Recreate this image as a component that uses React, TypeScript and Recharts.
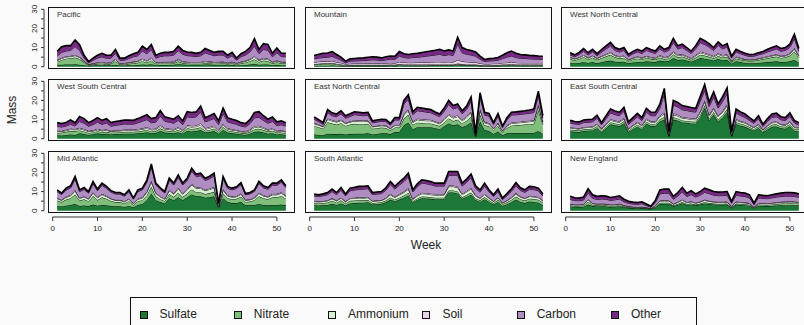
import { AreaChart, Area, XAxis, YAxis } from "recharts";

const WEEKS = Array.from({ length: 52 }, (_, i) => i + 1);
const SPECIES = ["Sulfate", "Nitrate", "Ammonium", "Soil", "Carbon", "Other"];
const COLORS = ["#1b7837", "#7fbf7b", "#d9f0d3", "#e7d4e8", "#af8dc3", "#762a83"];
const Y_TICKS = [0, 5, 10, 15, 20, 25, 30];
const X_TICKS = [0, 10, 20, 30, 40, 50];

const pacific = {
  Sulfate: [1, 1, 1.2, 1.2, 1.3, 1, 0.8, 0.5, 0.6, 0.7, 0.8, 0.7, 0.8,
    1, 0.6, 0.6, 0.7, 0.8, 0.9, 1.1, 1, 1.3, 0.8, 0.9, 0.9, 1,
    1, 1.3, 1.1, 1, 1, 1, 1, 1.2, 1.1, 1, 1, 1, 0.8,
    1, 0.6, 0.8, 0.9, 1.1, 1.4, 1, 1.2, 1.2, 0.8, 1, 0.8, 0.8],
  Nitrate: [1.5, 2.5, 3, 3.2, 3.5, 3, 1.5, 0.3, 0.5, 0.8, 0.8, 0.6, 0.7,
    2, 0.5, 0.6, 0.8, 1, 1.2, 1.8, 1.2, 2, 0.7, 0.8, 0.8, 0.7,
    0.8, 1.5, 0.8, 0.7, 0.6, 0.6, 0.6, 0.8, 0.7, 0.6, 0.7, 0.8, 0.6,
    0.8, 0.6, 1, 1.3, 1.8, 2.5, 1.5, 2, 1.8, 1, 1.3, 1, 1],
  Ammonium: [0.7, 0.8, 0.9, 0.9, 1, 0.8, 0.5, 0.3, 0.4, 0.5, 0.5, 0.5, 0.5,
    0.8, 0.4, 0.4, 0.5, 0.6, 0.6, 0.9, 0.7, 1, 0.5, 0.5, 0.5, 0.5,
    0.5, 0.8, 0.6, 0.5, 0.5, 0.5, 0.5, 0.6, 0.6, 0.5, 0.5, 0.5, 0.4,
    0.5, 0.4, 0.5, 0.6, 0.8, 1.1, 0.7, 0.9, 0.8, 0.5, 0.7, 0.5, 0.5],
  Soil: [0.4, 0.4, 0.4, 0.4, 0.5, 0.4, 0.3, 0.2, 0.3, 0.3, 0.4, 0.3, 0.3,
    0.4, 0.3, 0.3, 0.3, 0.3, 0.4, 0.5, 0.4, 0.5, 0.3, 0.3, 0.4, 0.4,
    0.4, 0.5, 0.4, 0.4, 0.4, 0.4, 0.4, 0.5, 0.4, 0.4, 0.4, 0.4, 0.3,
    0.4, 0.3, 0.4, 0.4, 0.5, 0.6, 0.4, 0.5, 0.5, 0.3, 0.4, 0.3, 0.3],
  Carbon: [1.9, 2.8, 2.7, 2.8, 4.2, 3.3, 1.4, 0.7, 1.5, 2.2, 2.7, 2.3, 2.2,
    2.8, 1.5, 1.5, 2, 2.5, 2.6, 3.9, 3.5, 4.2, 2.2, 2.8, 3.1, 3.1,
    3.4, 4.3, 3.6, 3.2, 3.1, 2.8, 3.2, 4.2, 3.7, 3.2, 3.5, 3.4, 2.4,
    3, 1.5, 2.5, 2.9, 3.5, 5.2, 3.2, 4.4, 4.3, 2.6, 3.8, 2.7, 2.6],
  Other: [2.5, 3, 2.8, 2.5, 3.5, 3, 1.5, 0.7, 1.2, 1.5, 1.8, 1.6, 1.5,
    2, 1.2, 1.1, 1.4, 1.6, 1.8, 2.5, 2.2, 2.6, 1.5, 1.7, 1.8, 1.8,
    1.9, 2.3, 2, 1.9, 1.9, 1.7, 1.8, 2.2, 2, 1.8, 1.9, 1.9, 1.5,
    1.8, 1.1, 1.6, 1.9, 2.3, 3.8, 2.2, 3, 3, 1.8, 2.6, 1.7, 1.8],
};

const mountain = {
  Sulfate: [0.5, 0.5, 0.5, 0.5, 0.6, 0.5, 0.4, 0.3, 0.4, 0.4, 0.4, 0.4, 0.4,
    0.4, 0.4, 0.4, 0.4, 0.5, 0.4, 0.6, 0.5, 0.5, 0.5, 0.5, 0.5, 0.5,
    0.6, 0.6, 0.6, 0.6, 0.6, 0.6, 0.8, 0.7, 0.6, 0.6, 0.6, 0.4, 0.3,
    0.3, 0.4, 0.4, 0.5, 0.5, 0.6, 0.5, 0.5, 0.5, 0.5, 0.5, 0.5, 0.5],
  Nitrate: [0.6, 0.8, 1, 1, 1, 0.7, 0.5, 0.2, 0.3, 0.3, 0.3, 0.3, 0.3,
    0.3, 0.3, 0.3, 0.3, 0.3, 0.3, 0.5, 0.4, 0.3, 0.3, 0.3, 0.3, 0.3,
    0.3, 0.3, 0.3, 0.3, 0.3, 0.3, 0.6, 0.4, 0.3, 0.3, 0.3, 0.2, 0.2,
    0.2, 0.2, 0.2, 0.3, 0.3, 0.4, 0.3, 0.3, 0.3, 0.3, 0.3, 0.3, 0.3],
  Ammonium: [0.3, 0.3, 0.3, 0.3, 0.3, 0.3, 0.3, 0.3, 0.3, 0.3, 0.3, 0.3, 0.3,
    0.3, 0.3, 0.3, 0.3, 0.3, 0.3, 0.3, 0.3, 0.3, 0.3, 0.3, 0.3, 0.3,
    0.3, 0.3, 0.3, 0.3, 0.3, 0.3, 0.3, 0.3, 0.3, 0.3, 0.3, 0.3, 0.3,
    0.3, 0.3, 0.3, 0.3, 0.3, 0.3, 0.3, 0.3, 0.3, 0.3, 0.3, 0.3, 0.3],
  Soil: [0.9, 1, 1, 1, 1.1, 0.9, 0.8, 0.5, 0.6, 0.7, 0.7, 0.7, 0.8,
    0.8, 0.8, 0.7, 0.8, 0.9, 0.8, 1.1, 1, 1, 1, 1.1, 1.1, 1.2,
    1.2, 1.3, 1.3, 1.2, 1.3, 1.2, 1.8, 1.4, 1.3, 1.2, 1.1, 0.8, 0.6,
    0.6, 0.7, 0.7, 0.9, 1, 1.1, 1, 0.9, 0.9, 0.9, 0.9, 0.9, 0.9],
  Carbon: [1.8, 1.9, 2, 2.1, 2.4, 2, 1.4, 0.7, 1.3, 1.3, 1.4, 1.5, 1.6,
    1.8, 1.7, 1.5, 1.8, 1.9, 2, 3, 2.6, 2.4, 2.7, 2.7, 3, 3.2,
    3.4, 3.6, 4, 3.4, 3.8, 3.5, 8.4, 4.4, 4, 3.7, 3.2, 2.2, 1.3,
    1.6, 1.5, 1.8, 2.2, 2.9, 3.2, 2.7, 2.4, 2.3, 2.1, 2, 1.9, 1.8],
  Other: [1.8, 2, 2.2, 2.3, 2.5, 2, 1.6, 0.9, 1.2, 1.3, 1.4, 1.4, 1.5,
    1.6, 1.5, 1.4, 1.6, 1.7, 1.6, 2.4, 2, 1.9, 2, 2.1, 2.2, 2.3,
    2.4, 2.5, 2.6, 2.4, 2.5, 2.3, 3.5, 2.8, 2.5, 2.4, 2.2, 1.6, 1.1,
    1.2, 1.3, 1.4, 1.8, 2.3, 2.6, 2.2, 2, 1.9, 1.8, 1.8, 1.7, 1.7],
};

const westNorthCentral = {
  Sulfate: [2, 1.8, 2, 2.5, 2, 2.4, 1.8, 2.3, 2.8, 3.2, 2.6, 2.4, 2.6,
    1.8, 2.2, 2.5, 2.3, 2.8, 2.6, 2.4, 3.2, 2.8, 3, 4.5, 3.5, 3.8,
    3.2, 2.6, 3.5, 4.5, 4.2, 3.8, 3.2, 4, 3.4, 3.6, 1.6, 2.8, 2.4,
    2, 1.8, 1.8, 2, 2.2, 2.4, 2.6, 2.8, 2.4, 2.5, 2.8, 3.5, 2.2],
  Nitrate: [2, 1.6, 2, 2.6, 1.8, 2.4, 1.8, 2.2, 2.6, 3, 2.3, 2, 2.1,
    1.2, 1.6, 1.8, 1.5, 1.8, 1.5, 1.3, 1.6, 1.2, 1.3, 2, 1.4, 1.5,
    1.2, 1, 1.3, 1.8, 1.6, 1.4, 1.2, 1.6, 1.4, 1.6, 0.8, 1.4, 1.3,
    1.2, 1.2, 1.3, 1.5, 1.8, 2, 2.3, 2.5, 2.2, 2.4, 3, 4.5, 2.6],
  Ammonium: [0.7, 0.6, 0.7, 0.8, 0.7, 0.8, 0.6, 0.8, 0.9, 1, 0.8, 0.7, 0.8,
    0.5, 0.6, 0.7, 0.6, 0.7, 0.6, 0.6, 0.8, 0.7, 0.7, 1, 0.8, 0.8,
    0.7, 0.6, 0.8, 1, 0.9, 0.8, 0.7, 0.9, 0.8, 0.8, 0.4, 0.7, 0.6,
    0.5, 0.5, 0.5, 0.6, 0.6, 0.7, 0.7, 0.8, 0.7, 0.7, 0.8, 1.2, 0.7],
  Soil: [0.3, 0.3, 0.3, 0.4, 0.3, 0.4, 0.3, 0.4, 0.4, 0.5, 0.4, 0.4, 0.4,
    0.3, 0.3, 0.4, 0.4, 0.4, 0.4, 0.4, 0.5, 0.4, 0.5, 0.6, 0.5, 0.5,
    0.5, 0.4, 0.5, 0.6, 0.6, 0.5, 0.5, 0.5, 0.5, 0.5, 0.3, 0.4, 0.4,
    0.3, 0.3, 0.3, 0.3, 0.4, 0.4, 0.4, 0.4, 0.4, 0.4, 0.4, 0.6, 0.4],
  Carbon: [1.1, 0.9, 1.3, 1.7, 1.3, 1.7, 1.2, 1.9, 2.6, 3.1, 2.4, 2.2, 2.6,
    1.6, 2, 2.3, 2.1, 2.8, 2.5, 2.2, 3.2, 2.6, 3, 4.5, 3.1, 3.4,
    2.9, 2.3, 3.3, 4.7, 4.3, 3.7, 2.9, 4.1, 3.2, 3.8, 1.5, 2.4, 2.1,
    1.9, 1.6, 1.6, 1.8, 1.8, 2.2, 2.5, 2.8, 2.4, 2.5, 3.1, 4.8, 2.2],
  Other: [1.2, 1, 1.2, 1.5, 1.2, 1.4, 1.1, 1.4, 1.6, 1.9, 1.5, 1.4, 1.5,
    1, 1.3, 1.4, 1.3, 1.5, 1.4, 1.3, 1.6, 1.4, 1.5, 2.2, 1.6, 1.8,
    1.5, 1.3, 1.6, 2.2, 2, 1.8, 1.5, 1.9, 1.6, 1.8, 0.9, 1.4, 1.2,
    1.1, 1, 1, 1.1, 1.2, 1.4, 1.5, 1.6, 1.4, 1.5, 1.7, 2.4, 1.4],
};

const westSouthCentral = {
  Sulfate: [1.8, 1.7, 2, 2.2, 2, 2.8, 2.5, 2, 2.3, 2.8, 2.4, 2.6, 2.2,
    2.4, 2.5, 2.6, 2.6, 2.6, 2.8, 3, 3.4, 2.8, 3, 4, 3.2, 3,
    2.8, 3.4, 2.6, 4, 3.8, 4, 4.5, 3.2, 3.5, 4, 2.6, 4.6, 3.2,
    2.8, 2.6, 2.2, 2, 2.6, 3.6, 3.7, 3.2, 2.6, 2.8, 2.2, 2.3, 2],
  Nitrate: [1.2, 1.4, 1.6, 1.8, 2, 1.5, 1.3, 1, 1, 1.1, 1, 1, 0.9,
    0.9, 0.9, 1, 1, 1, 1, 1.1, 1.2, 1, 1, 1.4, 1.1, 1,
    1, 1.2, 0.9, 1.4, 1.3, 1.3, 1.5, 1, 1.1, 1.3, 0.9, 1.5, 1.1,
    1, 0.9, 0.8, 0.8, 1, 1.4, 1.5, 1.3, 1.1, 1.4, 1, 1, 0.9],
  Ammonium: [0.7, 0.6, 0.7, 0.8, 0.7, 0.9, 0.8, 0.7, 0.7, 0.8, 0.7, 0.8, 0.6,
    0.7, 0.7, 0.7, 0.7, 0.7, 0.8, 0.8, 0.9, 0.8, 0.8, 1, 0.8, 0.8,
    0.7, 0.9, 0.7, 1, 1, 1, 1.2, 0.8, 0.9, 1, 0.7, 1.1, 0.8,
    0.7, 0.7, 0.6, 0.6, 0.7, 1, 1, 0.9, 0.7, 0.8, 0.6, 0.7, 0.6],
  Soil: [0.4, 0.4, 0.4, 0.5, 0.4, 0.5, 0.5, 0.4, 0.4, 0.5, 0.4, 0.5, 0.4,
    0.4, 0.4, 0.5, 0.5, 0.5, 0.5, 0.5, 0.6, 0.5, 0.5, 0.7, 0.5, 0.5,
    0.5, 0.6, 0.4, 0.7, 0.6, 0.6, 0.8, 0.5, 0.6, 0.6, 0.4, 0.7, 0.5,
    0.5, 0.4, 0.4, 0.4, 0.5, 0.6, 0.6, 0.6, 0.5, 0.5, 0.4, 0.4, 0.4],
  Carbon: [2.3, 2, 1.9, 2.3, 1.5, 3.3, 3, 2.4, 3, 3.4, 3, 3.3, 2.4,
    2.6, 2.8, 2.9, 2.8, 2.8, 3.2, 3.7, 3.9, 3.2, 3.4, 4.7, 3.5, 3.3,
    3.1, 3.5, 2.8, 4.4, 4.4, 4.5, 6, 3.3, 3.5, 3.7, 2.8, 5.3, 3.2,
    3.1, 2.9, 2.6, 2.4, 3.1, 4.3, 4.4, 3.5, 3.2, 3.5, 2.7, 2.9, 2.7],
  Other: [2, 1.8, 1.9, 2.2, 1.8, 2.6, 2.4, 1.9, 2.1, 2.4, 2.1, 2.3, 1.9,
    2, 2, 2.1, 2.1, 2, 2.2, 2.4, 2.5, 2.2, 2.3, 2.8, 2.3, 2.2,
    2.1, 2.4, 1.9, 2.6, 2.6, 2.6, 3, 2.2, 2.4, 2.6, 1.9, 2.8, 2.2,
    2.1, 2, 1.8, 1.7, 2.1, 2.8, 2.9, 2.5, 2.1, 2.4, 1.9, 2, 1.8],
};

const eastNorthCentral = {
  Sulfate: [2.2, 2, 1.8, 2.6, 2.4, 2.4, 2.6, 2.2, 2.4, 2.6, 2.6, 2.6, 2.8,
    2.2, 2.5, 2.8, 2.8, 2.4, 3.5, 3.5, 7, 8.5, 5, 6, 6, 6,
    6, 5.5, 5, 6.5, 8, 7, 7.5, 6, 7, 8.5, 1, 9, 4.5,
    4, 2.5, 3.8, 1.8, 2.8, 3, 3, 3, 3, 3, 3, 4, 2.5],
  Nitrate: [4.5, 4, 3.4, 6, 5.5, 5, 5.5, 4.5, 5, 5.2, 5, 5, 5,
    3, 3, 3, 2.8, 2, 2.4, 2.3, 3.5, 4, 2.2, 2.4, 2.2, 2,
    2, 1.8, 1.6, 2, 2.6, 2.2, 2.4, 2, 2.4, 3, 0.5, 3.5, 2.5,
    2.5, 1.8, 2.8, 1.5, 2.8, 3.8, 4, 4.2, 4.4, 4.6, 4.8, 11, 5],
  Ammonium: [1.2, 1.1, 1, 1.5, 1.4, 1.3, 1.4, 1.2, 1.3, 1.4, 1.4, 1.4, 1.4,
    1, 1, 1, 1, 0.8, 1, 1, 1.8, 2, 1.3, 1.5, 1.4, 1.4,
    1.4, 1.3, 1.2, 1.5, 1.8, 1.6, 1.7, 1.4, 1.6, 2, 0.3, 2.2, 1.3,
    1.2, 0.8, 1.2, 0.6, 1, 1.2, 1.2, 1.2, 1.3, 1.3, 1.4, 2.2, 1.1],
  Soil: [0.4, 0.4, 0.3, 0.5, 0.5, 0.4, 0.5, 0.4, 0.4, 0.5, 0.5, 0.5, 0.5,
    0.3, 0.3, 0.4, 0.4, 0.3, 0.4, 0.4, 0.6, 0.7, 0.5, 0.6, 0.6, 0.6,
    0.5, 0.5, 0.5, 0.6, 0.7, 0.6, 0.7, 0.5, 0.6, 0.7, 0.2, 0.8, 0.5,
    0.5, 0.3, 0.5, 0.3, 0.4, 0.5, 0.5, 0.5, 0.5, 0.5, 0.5, 0.8, 0.4],
  Carbon: [1.8, 1.4, 1, 3, 2.2, 2.4, 3, 2.4, 2.5, 2.9, 2.8, 2.5, 2.6,
    1.8, 1.9, 1.9, 1.9, 1.6, 2.5, 2.6, 5.1, 5.4, 3.6, 4.1, 4.1, 3.9,
    3.7, 3.4, 3.2, 3.7, 4.8, 4.1, 4, 3.1, 3.6, 5.4, 0.6, 6.1, 3.5,
    3.6, 2.1, 3.5, 1.7, 2.8, 3.9, 3.8, 3.8, 3.8, 3.9, 4, 4.4, 1.7],
  Other: [1.3, 1.1, 1, 1.6, 1.5, 1.4, 1.6, 1.3, 1.4, 1.5, 1.5, 1.5, 1.5,
    1, 1.1, 1.1, 1.1, 0.9, 1.2, 1.2, 2, 2.4, 1.5, 1.8, 1.7, 1.7,
    1.6, 1.5, 1.4, 1.7, 2.1, 1.8, 1.9, 1.6, 1.8, 2.2, 0.4, 2.4, 1.5,
    1.4, 0.9, 1.4, 0.7, 1.2, 1.4, 1.5, 1.6, 1.6, 1.7, 1.8, 2.4, 1.3],
};

const eastSouthCentral = {
  Sulfate: [3.8, 3.6, 3.5, 4, 4.2, 4.3, 5.5, 3.4, 5.4, 7.5, 7, 6.6, 8,
    3.5, 5, 6.3, 5, 7.8, 6.6, 6.6, 9, 10, 1.2, 10, 9.5, 8.5,
    8.3, 8, 7.8, 11, 16, 9.5, 12.5, 9, 11, 14, 1.2, 7.5, 6.8,
    6.2, 5.2, 4.2, 5.6, 3.2, 4.8, 6.2, 6.4, 5.4, 5.2, 6.5, 4.2, 3.8],
  Nitrate: [0.9, 0.9, 0.8, 0.9, 0.9, 0.9, 1, 0.8, 1, 1.1, 1, 1, 1.1,
    0.7, 0.9, 1, 0.9, 1.1, 1, 1, 1.2, 1.4, 0.3, 1.2, 1.1, 1,
    1, 1, 1, 1.2, 1.5, 1.1, 1.4, 1.1, 1.3, 1.5, 0.3, 1.1, 1,
    1, 0.9, 0.8, 0.9, 0.7, 0.9, 1.1, 1.1, 1, 1, 1.1, 0.9, 1],
  Ammonium: [0.8, 0.8, 0.7, 0.8, 0.8, 0.8, 1, 0.7, 0.9, 1.1, 1, 1, 1.2,
    0.7, 0.8, 1, 0.8, 1.1, 1, 1, 1.3, 1.6, 0.3, 1.4, 1.3, 1.2,
    1.2, 1.1, 1.1, 1.5, 1.8, 1.3, 1.6, 1.3, 1.5, 1.8, 0.3, 1.1, 1,
    1, 0.8, 0.7, 0.9, 0.6, 0.8, 1, 1, 0.9, 0.8, 1, 0.7, 0.8],
  Soil: [0.4, 0.4, 0.4, 0.4, 0.4, 0.4, 0.5, 0.4, 0.5, 0.6, 0.5, 0.5, 0.6,
    0.4, 0.4, 0.5, 0.4, 0.6, 0.5, 0.5, 0.6, 0.8, 0.2, 0.7, 0.6, 0.6,
    0.6, 0.6, 0.6, 0.7, 0.8, 0.6, 0.8, 0.6, 0.7, 0.8, 0.2, 0.6, 0.5,
    0.5, 0.4, 0.4, 0.4, 0.3, 0.4, 0.5, 0.5, 0.4, 0.4, 0.5, 0.4, 0.4],
  Carbon: [2.3, 2, 2.1, 2.3, 2.3, 2.4, 2.7, 1.9, 2.6, 3.2, 3.1, 2.9, 3.4,
    2.2, 2.4, 2.6, 2.4, 3.3, 2.9, 2.9, 3.7, 9.5, 1.3, 4.2, 4.1, 3.8,
    3.6, 3.5, 3.4, 5, 5.1, 4.3, 5.4, 4, 4.9, 5.5, 1.3, 3.2, 2.8,
    2.4, 2.2, 1.9, 2.6, 1.6, 2.1, 2.3, 2.5, 2.2, 2.1, 2.5, 2, 1.1],
  Other: [1.4, 1.3, 1.3, 1.4, 1.4, 1.4, 1.6, 1.2, 1.6, 2, 1.9, 1.8, 2.1,
    1.3, 1.5, 1.8, 1.5, 2, 1.8, 1.8, 2.2, 3, 0.6, 2.5, 2.4, 2.2,
    2.1, 2.1, 2, 2.6, 3.2, 2.3, 2.8, 2.2, 2.6, 3, 0.6, 2, 1.9,
    1.8, 1.5, 1.3, 1.6, 1.1, 1.5, 1.8, 1.9, 1.6, 1.5, 1.9, 1.3, 1.3],
};

const midAtlantic = {
  Sulfate: [2.5, 2.2, 2.6, 3, 3.5, 2.5, 2.7, 2.4, 3.2, 2.6, 3, 2.8, 2.5,
    2.3, 2.3, 2, 2.5, 1.8, 3, 3.5, 5.5, 9, 5.5, 4.5, 3.8, 6.5,
    5.5, 7, 5.5, 7, 8.5, 7.5, 7.5, 6.8, 7, 7.5, 1.5, 6.5, 4.5,
    4, 4, 4.5, 2.8, 2.8, 3, 3.5, 3, 2.8, 3, 3, 3.2, 2.8],
  Nitrate: [2.8, 2.3, 3.2, 3.5, 5, 2.8, 3.3, 2.6, 4.5, 3, 4, 3.4, 2.6,
    2.2, 2.2, 1.8, 2.5, 1.2, 2, 2, 2.5, 3.5, 2, 1.5, 1.2, 2.2,
    1.6, 2.4, 1.6, 2, 2.6, 2.2, 2.2, 1.9, 2.2, 2.4, 0.5, 2.5, 2,
    2, 2.2, 2.8, 1.8, 2, 2.5, 4, 3.5, 3.2, 4, 4, 4.5, 3.5],
  Ammonium: [1, 0.9, 1.2, 1.3, 1.8, 1, 1.2, 1, 1.5, 1.1, 1.4, 1.2, 1,
    0.9, 0.9, 0.8, 1, 0.6, 1, 1.1, 1.6, 2.5, 1.5, 1.2, 1, 1.8,
    1.5, 2, 1.5, 1.8, 2.4, 2, 2, 1.8, 1.9, 2, 0.4, 1.8, 1.2,
    1.1, 1.1, 1.3, 0.8, 0.9, 1, 1.5, 1.2, 1.1, 1.3, 1.3, 1.5, 1.2],
  Soil: [0.4, 0.3, 0.4, 0.4, 0.5, 0.4, 0.4, 0.3, 0.5, 0.4, 0.4, 0.4, 0.3,
    0.3, 0.3, 0.3, 0.4, 0.2, 0.4, 0.4, 0.5, 0.7, 0.4, 0.4, 0.3, 0.5,
    0.4, 0.6, 0.4, 0.5, 0.6, 0.5, 0.6, 0.5, 0.5, 0.6, 0.1, 0.5, 0.4,
    0.4, 0.4, 0.5, 0.3, 0.3, 0.4, 0.5, 0.4, 0.4, 0.5, 0.5, 0.5, 0.4],
  Carbon: [3.2, 2.7, 3.4, 3.7, 5.7, 3.3, 3.5, 2.9, 4.4, 3.3, 4.5, 3.9, 3.3,
    3, 3, 2.7, 3.6, 2.3, 3.6, 3.9, 4.7, 7.1, 4, 3.5, 3, 4.8,
    4.4, 5.4, 4.4, 4.5, 6.6, 5.6, 5.9, 4.8, 5.1, 5.7, 1.2, 5.3, 3.7,
    3.4, 3.9, 4.5, 2.6, 2.8, 3.2, 4.7, 3.9, 3.7, 4.5, 4.5, 5.2, 4.1],
  Other: [1, 0.8, 1, 1.1, 1.4, 0.9, 1, 0.8, 1.2, 0.9, 1.1, 1, 0.8,
    0.8, 0.8, 0.7, 0.9, 0.5, 0.9, 0.9, 1.2, 1.6, 1, 0.9, 0.7, 1.2,
    1, 1.3, 1, 1.2, 1.5, 1.3, 1.4, 1.2, 1.3, 1.4, 0.3, 1.3, 0.9,
    0.9, 0.9, 1.1, 0.7, 0.7, 0.8, 1.1, 1, 0.9, 1.1, 1.1, 1.2, 1],
};

const southAtlantic = {
  Sulfate: [2.8, 2.7, 2.8, 3, 3.6, 3, 3.8, 2.8, 3.8, 4, 4.2, 4.2, 4.4,
    3.2, 3.4, 3.6, 4.4, 5.8, 4.8, 5.8, 6.8, 8, 4.2, 5.6, 6.5, 6.4,
    6.2, 6, 6, 6, 9.5, 9.5, 9, 6.2, 7.2, 8.4, 5.6, 4.6, 6,
    4.6, 3.2, 4.6, 2.5, 3.4, 4.4, 5.8, 4.6, 4, 4.8, 4.6, 4.2, 3],
  Nitrate: [1.2, 1.1, 1.2, 1.3, 1.6, 1.2, 1.6, 1, 1.4, 1.3, 1.3, 1.2, 1.2,
    0.8, 0.8, 0.8, 0.9, 1.1, 0.9, 1, 1.1, 1.3, 0.7, 0.8, 0.9, 0.9,
    0.8, 0.8, 0.8, 0.8, 1.1, 1.1, 1.1, 0.8, 1, 1.1, 0.8, 0.8, 1.1,
    0.9, 0.8, 1.1, 0.8, 1, 1.3, 1.6, 1.4, 1.3, 1.5, 1.5, 1.5, 1.3],
  Ammonium: [0.8, 0.8, 0.8, 0.9, 1, 0.9, 1.1, 0.8, 1.1, 1.1, 1.2, 1.2, 1.2,
    0.9, 0.9, 0.9, 1.1, 1.4, 1.2, 1.4, 1.6, 1.9, 1, 1.3, 1.5, 1.5,
    1.4, 1.4, 1.4, 1.4, 2, 2, 2, 1.4, 1.6, 1.9, 1.3, 1, 1.3,
    1, 0.8, 1, 0.6, 0.8, 1, 1.3, 1.1, 1, 1.1, 1.1, 1.1, 0.8],
  Soil: [0.3, 0.3, 0.3, 0.3, 0.4, 0.3, 0.4, 0.3, 0.4, 0.4, 0.4, 0.4, 0.4,
    0.3, 0.3, 0.3, 0.4, 0.5, 0.4, 0.5, 0.5, 0.6, 0.3, 0.4, 0.5, 0.5,
    0.5, 0.5, 0.5, 0.5, 0.6, 0.6, 0.6, 0.5, 0.5, 0.6, 0.4, 0.3, 0.4,
    0.3, 0.3, 0.3, 0.2, 0.3, 0.4, 0.5, 0.4, 0.3, 0.4, 0.4, 0.4, 0.3],
  Carbon: [2.6, 2.5, 2.7, 2.9, 3.4, 3, 3.8, 2.8, 3.7, 4, 4.1, 4.3, 4.3,
    3.2, 3.3, 3.3, 3.9, 4.8, 4, 4.7, 5.2, 5.8, 3.6, 4.4, 5, 4.8,
    4.7, 4.2, 4.2, 4.2, 5.3, 5.3, 5.8, 4, 4.5, 5.3, 3.5, 3, 4,
    3, 2.3, 3, 1.7, 2.4, 3, 3.8, 3.1, 3, 3.4, 3.4, 3.2, 2.3],
  Other: [1, 0.9, 1, 1.1, 1.3, 1.1, 1.4, 1, 1.4, 1.4, 1.5, 1.5, 1.5,
    1.1, 1.1, 1.1, 1.3, 1.7, 1.4, 1.6, 1.8, 2, 1.1, 1.5, 1.7, 1.7,
    1.6, 1.5, 1.5, 1.5, 2, 2, 2, 1.5, 1.7, 1.9, 1.4, 1.2, 1.6,
    1.2, 0.9, 1.3, 0.8, 1.1, 1.4, 1.7, 1.4, 1.3, 1.5, 1.5, 1.4, 1],
};

const newEngland = {
  Sulfate: [2.2, 2, 2, 2.1, 3.2, 2.4, 2.2, 2.3, 2.2, 2, 2.1, 2.3, 1.8,
    1.5, 1.4, 1.3, 1.4, 1.1, 0.8, 1.7, 3.5, 3.6, 3.6, 2.4, 3, 3.9,
    3, 3.3, 2.8, 3.2, 3.8, 3.5, 3.2, 3.1, 3.1, 3.2, 1.5, 3.2, 3,
    2.9, 2.6, 1.2, 2.6, 2.5, 2.4, 2.6, 2.7, 2.8, 2.9, 2.9, 2.8, 2.7],
  Nitrate: [0.6, 0.5, 0.5, 0.6, 1.5, 0.7, 0.6, 0.6, 0.6, 0.5, 0.5, 0.6, 0.4,
    0.4, 0.3, 0.3, 0.3, 0.3, 0.2, 0.4, 0.6, 0.6, 0.6, 0.4, 0.5, 0.6,
    0.5, 0.5, 0.4, 0.5, 0.6, 0.5, 0.5, 0.5, 0.5, 0.5, 0.3, 0.5, 0.5,
    0.5, 0.5, 0.3, 0.6, 0.6, 0.6, 0.7, 0.8, 0.9, 0.9, 1, 1, 1],
  Ammonium: [0.6, 0.5, 0.5, 0.5, 1, 0.6, 0.6, 0.6, 0.6, 0.5, 0.5, 0.6, 0.4,
    0.4, 0.3, 0.3, 0.3, 0.3, 0.2, 0.4, 0.9, 0.9, 0.9, 0.6, 0.8, 1,
    0.7, 0.8, 0.7, 0.8, 1, 0.9, 0.8, 0.8, 0.8, 0.8, 0.4, 0.8, 0.7,
    0.7, 0.6, 0.3, 0.6, 0.6, 0.6, 0.6, 0.6, 0.7, 0.7, 0.7, 0.7, 0.6],
  Soil: [0.2, 0.2, 0.2, 0.2, 0.3, 0.2, 0.2, 0.2, 0.2, 0.2, 0.2, 0.2, 0.2,
    0.1, 0.1, 0.1, 0.1, 0.1, 0.1, 0.2, 0.3, 0.3, 0.3, 0.2, 0.3, 0.4,
    0.3, 0.3, 0.3, 0.3, 0.4, 0.3, 0.3, 0.3, 0.3, 0.3, 0.2, 0.3, 0.3,
    0.3, 0.3, 0.1, 0.3, 0.3, 0.3, 0.3, 0.3, 0.3, 0.3, 0.3, 0.3, 0.3],
  Carbon: [2.3, 2.1, 2, 2.2, 3.3, 2.6, 2.3, 2.4, 2.4, 2.2, 2.4, 2.4, 1.9,
    1.4, 1.4, 1.3, 1.6, 0.9, 0.5, 1.6, 3.5, 3.7, 3.7, 2.4, 3, 3.9,
    2.9, 3.5, 2.9, 3.3, 3.8, 3.7, 3.3, 3.1, 3.2, 3.3, 1.5, 3.3, 3.2,
    3, 2.7, 1.3, 2.6, 2.4, 2.4, 2.5, 2.7, 2.7, 2.8, 2.7, 2.6, 2.4],
  Other: [1.6, 1.5, 1.4, 1.5, 2.2, 1.8, 1.6, 1.7, 1.6, 1.5, 1.6, 1.7, 1.3,
    1.1, 1, 1, 1, 0.8, 0.5, 1.1, 2.1, 2.2, 2.2, 1.5, 1.9, 2.3,
    1.8, 2, 1.7, 1.9, 2.2, 2.1, 1.9, 1.9, 1.9, 1.9, 1, 1.9, 1.8,
    1.8, 1.6, 0.8, 1.6, 1.6, 1.5, 1.6, 1.7, 1.8, 1.9, 1.9, 1.9, 1.8],
};

const REGIONS = [
  { name: "Pacific", values: pacific },
  { name: "Mountain", values: mountain },
  { name: "West North Central", values: westNorthCentral },
  { name: "West South Central", values: westSouthCentral },
  { name: "East North Central", values: eastNorthCentral },
  { name: "East South Central", values: eastSouthCentral },
  { name: "Mid Atlantic", values: midAtlantic },
  { name: "South Atlantic", values: southAtlantic },
  { name: "New England", values: newEngland },
];

// layout (page pixels)
const BOX_W = 247;
const BOX_H = 62;
const COL_X = [48, 305, 561];
const ROW_Y = [7, 79, 151];
const Y_AXIS_W = 40;
const X_AXIS_H = 30;
const PAD = 7; // room above the box for the rotated "30" label
const X_DOMAIN: [number, number] = [-1.04, 54.04];
const Y_DOMAIN: [number, number] = [-1.2, 31.2];
const FONT = "'Liberation Sans', Arial, Helvetica, sans-serif";

function YTick(props: any) {
  const { y, payload } = props;
  const v = payload.value;
  const ax = Y_AXIS_W - 4;
  const step = (BOX_H / (Y_DOMAIN[1] - Y_DOMAIN[0])) * 5;
  return (
    <g>
      <line x1={ax - 3} y1={y} x2={ax} y2={y} stroke="#333" strokeWidth={1} />
      {v < 30 && <line x1={ax} y1={y} x2={ax} y2={y - step} stroke="#333" strokeWidth={1} />}
      {v % 10 === 0 && (
        <text x={ax - 9} y={y} transform={`rotate(-90 ${ax - 9} ${y})`} textAnchor="middle"
          dominantBaseline="central" fontSize={8} fill="#222" fontFamily={FONT}>{v}</text>
      )}
    </g>
  );
}

function XTick(props: any) {
  const { x, payload } = props;
  const v = payload.value;
  const ay = PAD + BOX_H + 4;
  const step = (BOX_W / (X_DOMAIN[1] - X_DOMAIN[0])) * 10;
  return (
    <g>
      <line x1={x} y1={ay} x2={x} y2={ay + 4} stroke="#333" strokeWidth={1} />
      {v < 50 && <line x1={x} y1={ay} x2={x + step} y2={ay} stroke="#333" strokeWidth={1} />}
      <text x={x} y={ay + 14} textAnchor="middle" fontSize={8} fill="#222" fontFamily={FONT}>{v}</text>
    </g>
  );
}

function Panel({ region, col, row }: { region: any; col: number; row: number }) {
  const data = WEEKS.map((w, i) => {
    const r: any = { week: w };
    SPECIES.forEach((s) => (r[s] = region.values[s][i]));
    return r;
  });
  const showY = col === 0;
  const showX = row === 2;
  const left = COL_X[col] - (showY ? Y_AXIS_W : 0);
  const width = BOX_W + (showY ? Y_AXIS_W : 0);
  const height = PAD + BOX_H + (showX ? X_AXIS_H : 0);
  return (
    <>
      <div style={{ position: "absolute", left, top: ROW_Y[row] - PAD }}>
        <AreaChart width={width} height={height} data={data} margin={{ top: PAD, right: 0, bottom: 0, left: 0 }}>
          <XAxis dataKey="week" type="number" domain={X_DOMAIN} allowDataOverflow ticks={X_TICKS} interval={0}
            hide={!showX} height={X_AXIS_H} axisLine={false} tickLine={false} tick={<XTick />} />
          <YAxis type="number" domain={Y_DOMAIN} allowDataOverflow ticks={Y_TICKS} interval={0}
            hide={!showY} width={Y_AXIS_W} axisLine={false} tickLine={false} tick={<YTick />} />
          {SPECIES.map((s, i) => (
            <Area key={s} dataKey={s} stackId="1" type="linear" fill={COLORS[i]} fillOpacity={1}
              stroke="#000" strokeWidth={i === 5 ? 1.6 : 0.9} dot={false} activeDot={false}
              isAnimationActive={false} />
          ))}
        </AreaChart>
      </div>
      <div style={{
        position: "absolute", left: COL_X[col], top: ROW_Y[row], width: BOX_W, height: BOX_H,
        border: "1px solid #111", boxSizing: "border-box", pointerEvents: "none",
      }} />
      <div style={{ position: "absolute", left: COL_X[col] + 9, top: ROW_Y[row] + 2.5, fontSize: 8, color: "#333", lineHeight: "10px" }}>
        {region.name}
      </div>
    </>
  );
}

export default function App() {
  return (
    <div style={{
      position: "fixed", left: 0, top: 0, width: 804, height: 325, overflow: "hidden",
      background: "#fafafa", fontFamily: FONT,
    }}>
      {REGIONS.map((r, i) => (
        <Panel key={r.name} region={r} col={i % 3} row={Math.floor(i / 3)} />
      ))}
      <div style={{
        position: "absolute", left: 12, top: 110, transform: "translate(-50%, -50%) rotate(-90deg)",
        fontSize: 12, color: "#222", whiteSpace: "nowrap",
      }}>Mass</div>
      <div style={{
        position: "absolute", left: 426, top: 245, transform: "translate(-50%, -50%)",
        fontSize: 12, color: "#222",
      }}>Week</div>
      <div style={{
        position: "absolute", left: 130, top: 297, width: 567, height: 40,
        border: "1px solid #111", boxSizing: "border-box",
      }} />
      {SPECIES.map((s, i) => (
        <div key={s}>
          <div style={{
            position: "absolute", left: 139.5 + 94.3 * i, top: 311, width: 8, height: 8,
            background: COLORS[i], border: "1px solid #111", boxSizing: "border-box",
          }} />
          <div style={{
            position: "absolute", left: 159.5 + 94.3 * i, top: 307, fontSize: 12, lineHeight: "15px", color: "#222",
          }}>{s}</div>
        </div>
      ))}
    </div>
  );
}
